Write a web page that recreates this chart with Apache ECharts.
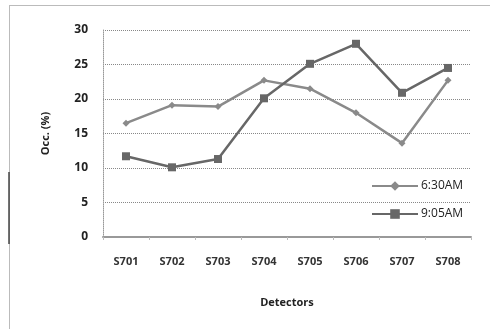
<!DOCTYPE html>
<html>
<head>
<meta charset="utf-8">
<script src="https://cdn.jsdelivr.net/npm/echarts@6/dist/echarts.min.js"></script>
<style>
  html, body { margin: 0; padding: 0; background: #fff; }
  #chart { width: 490px; height: 329px; }
</style>
</head>
<body>
<div id="chart"></div>
<script>
// Occupancy per detector at two times of day
var detectors = ['S701', 'S702', 'S703', 'S704', 'S705', 'S706', 'S707', 'S708'];
var occ0630 = [16.5, 19.1, 18.9, 22.7, 21.5, 18.0, 13.6, 22.7];
var occ0905 = [11.7, 10.1, 11.3, 20.1, 25.1, 28.0, 20.9, 24.5];
var yTicks = [0, 5, 10, 15, 20, 25, 30];

var FONT = '"Open Sans", "Liberation Sans", sans-serif';

var chart = echarts.init(document.getElementById('chart'));
chart.setOption({
  animation: false,
  backgroundColor: '#fff',
  grid: { left: 103, right: 19, top: 30, bottom: 92 },
  graphic: [
    {
      type: 'rect',
      shape: { x: 9.5, y: 5.5, width: 500, height: 340 },
      style: { fill: 'none', stroke: '#777', lineWidth: 1, lineDash: [1, 1] },
      silent: true
    },
    {
      type: 'line',
      shape: { x1: 9, y1: 172, x2: 9, y2: 244 },
      style: { stroke: '#444', lineWidth: 1.5 },
      silent: true
    }
  ],
  legend: {
    orient: 'vertical',
    left: 366,
    top: 175,
    itemWidth: 46,
    itemHeight: 12,
    itemGap: 16,
    textStyle: { fontFamily: FONT, fontSize: 12, color: '#222', padding: [0, 0, 0, -2] },
    data: ['6:30AM', '9:05AM']
  },
  xAxis: {
    type: 'category',
    data: detectors,
    boundaryGap: true,
    name: 'Detectors',
    nameLocation: 'middle',
    nameGap: 60,
    nameTextStyle: { fontFamily: FONT, fontSize: 11, fontWeight: 'bold', color: '#222' },
    axisLine: { lineStyle: { color: '#999', width: 2 } },
    axisTick: { show: true, alignWithLabel: false, length: 3, lineStyle: { color: '#bbb' } },
    axisLabel: { fontFamily: FONT, fontSize: 11, fontWeight: 'bold', color: '#333', margin: 19 },
    splitLine: { show: false }
  },
  yAxis: {
    type: 'value',
    min: 0,
    max: 30,
    interval: 5,
    name: 'Occ. (%)',
    nameLocation: 'middle',
    nameGap: 52,
    nameRotate: 90,
    nameTextStyle: { fontFamily: FONT, fontSize: 11, fontWeight: 'bold', color: '#222' },
    axisLine: { show: true, lineStyle: { color: '#999', width: 1, type: [1, 1] } },
    axisTick: { show: false },
    axisLabel: {
      fontFamily: FONT, fontSize: 12, fontWeight: 'bold', color: '#222', margin: 15,
      formatter: function (v) { return yTicks.indexOf(v) >= 0 ? String(v) : ''; }
    },
    splitLine: { show: true, lineStyle: { color: '#888', width: 1, type: [1, 1] } }
  },
  series: [
    {
      name: '6:30AM',
      type: 'line',
      data: occ0630,
      symbol: 'diamond',
      symbolSize: 7,
      color: '#8a8a8a',
      lineStyle: { color: '#8a8a8a', width: 2.5 },
      itemStyle: { color: '#8a8a8a' },
      z: 3
    },
    {
      name: '9:05AM',
      type: 'line',
      data: occ0905,
      symbol: 'rect',
      symbolSize: 8,
      color: '#676767',
      lineStyle: { color: '#676767', width: 2.5 },
      itemStyle: { color: '#676767' },
      z: 4
    }
  ]
});
</script>
</body>
</html>
